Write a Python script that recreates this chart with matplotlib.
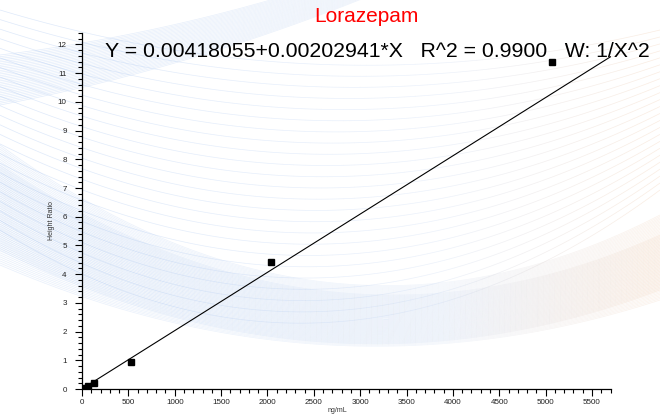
import numpy as np
import matplotlib
matplotlib.use("Agg")
import matplotlib.pyplot as plt
from matplotlib.collections import LineCollection
from matplotlib.colors import LinearSegmentedColormap

# -----------------------
# Data
# -----------------------
conc = [25, 60, 125, 525, 2040, 5070]          # ng/mL
height_ratio = [0.03, 0.09, 0.21, 0.95, 4.42, 11.40]
intercept = 0.00418055
slope = 0.00202941
x_max = 5700
y_max = 12.4

title = "Lorazepam"
equation = "Y = 0.00418055+0.00202941*X   R^2 = 0.9900   W: 1/X^2"

plt.rcParams["font.family"] = ["Liberation Sans", "DejaVu Sans"]

W, H = 660, 419
fig = plt.figure(figsize=(W / 100, H / 100), dpi=100)

# -----------------------
# Decorative background waves (pixel coordinates)
# -----------------------
bg = fig.add_axes([0, 0, 1, 1])
bg.set_xlim(0, W)
bg.set_ylim(H, 0)
bg.axis("off")
wave_cmap = LinearSegmentedColormap.from_list("wave", ["#9fbff0", "#b4cdf3", "#c9d9f3", "#f2c9a8"])
xs = np.linspace(0, W, 120)


def quad(p0, p1, p2):
    c = np.polyfit([p0[0], p1[0], p2[0]], [p0[1], p1[1], p2[1]], 2)
    return np.polyval(c, xs)


def band(top, bot, n, alpha, lw=0.5):
    yt = quad(*top)
    yb = quad(*bot)
    for t in np.linspace(0, 1, n):
        ys = yt + (yb - yt) * t
        pts = np.column_stack([xs, ys]).reshape(-1, 1, 2)
        segs = np.concatenate([pts[:-1], pts[1:]], axis=1)
        lc = LineCollection(segs, cmap=wave_cmap, linewidths=lw, alpha=alpha)
        lc.set_array(xs[:-1] / W)
        lc.set_clim(0, 1)
        bg.add_collection(lc)


# sparse arcs in the upper part
band(((0, 10), (480, 60), (660, 30)), ((0, 230), (480, 290), (660, 190)), 24, 0.35)
# dense band dipping through the middle (two crossing families)
band(((0, 145), (360, 285), (660, 215)), ((0, 265), (330, 345), (660, 300)), 60, 0.25)
band(((0, 165), (400, 295), (660, 235)), ((0, 250), (300, 340), (660, 290)), 50, 0.2)
# band crossing the top-left corner
band(((0, 55), (150, 30), (320, -15)), ((0, 105), (150, 70), (320, 15)), 30, 0.3)

# -----------------------
# Calibration plot
# -----------------------
ax = fig.add_axes([82 / W, 1 - 389 / H, (610.5 - 82) / W, (389 - 33) / H])
ax.patch.set_alpha(0)

fit_x = np.array([0, x_max])
fit_y = intercept + slope * fit_x
ax.plot(fit_x, fit_y, color="black", lw=0.8)
ax.plot(conc, height_ratio, "s", color="black", ms=4.2)

ax.set_xlim(0, x_max)
ax.set_ylim(0, y_max)
ax.set_xticks(np.arange(0, 5501, 500))
ax.set_xticks(np.arange(0, x_max + 1, 100), minor=True)
ax.set_yticks(np.arange(0, 13, 1))
ax.set_yticks(np.arange(0, y_max + 0.01, 0.2), minor=True)

for side in ["top", "right"]:
    ax.spines[side].set_visible(False)
for side in ["left", "bottom"]:
    ax.spines[side].set_linewidth(0.9)

ax.tick_params(axis="both", which="major", direction="out", length=5, width=0.8,
               labelsize=5.8, labelcolor="#222222")
ax.tick_params(axis="both", which="minor", direction="out", length=3.2, width=0.8)
ax.tick_params(axis="y", which="major", pad=6)
ax.tick_params(axis="x", which="major", pad=2)

fig.text(52 / W, 1 - 220 / H, "Height Ratio", rotation=90, ha="center", va="center",
         fontsize=5, color="#333333")
fig.text(337 / W, 1 - 410 / H, "ng/mL", ha="center", va="center",
         fontsize=5, color="#333333")

fig.text(366 / W, 1 - 17 / H, title, ha="center", va="center", fontsize=15, color="#ff0000")
fig.text(105 / W, 1 - 57 / H, equation, ha="left", va="baseline", fontsize=15.35, color="black")

fig.savefig("out.png", dpi=100)
